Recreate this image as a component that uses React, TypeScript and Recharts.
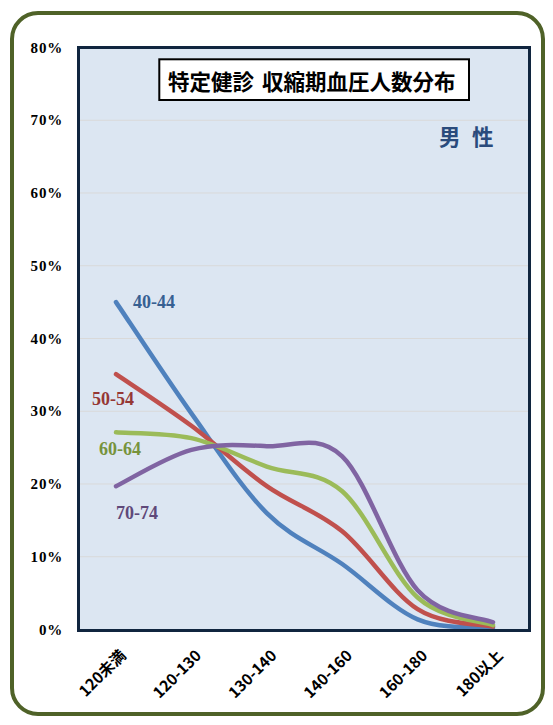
import { LineChart, Line, XAxis, YAxis, CartesianGrid } from 'recharts'

const categories = ['120未満', '120-130', '130-140', '140-160', '160-180', '180以上']
const age4044 = [45.0, 29.7, 16.0, 9.0, 1.4, 0.2]
const age5054 = [35.1, 28.0, 19.7, 13.5, 2.8, 0.4]
const age6064 = [27.1, 26.3, 22.4, 19.0, 4.4, 0.6]
const age7074 = [19.7, 24.7, 25.2, 23.8, 5.4, 1.0]
const yTicks = [0, 10, 20, 30, 40, 50, 60, 70, 80]

const data = categories.map((name, i) => ({
  name,
  a4044: age4044[i],
  a5054: age5054[i],
  a6064: age6064[i],
  a7074: age7074[i],
}))

const SERIES = [
  { key: 'a4044', color: '#4F81BD' },
  { key: 'a5054', color: '#C0504D' },
  { key: 'a6064', color: '#9BBB59' },
  { key: 'a7074', color: '#8064A2' },
]

const GOTHIC = '"Noto Sans CJK JP", "Noto Sans", sans-serif'
const SERIF = '"Liberation Serif", "Times New Roman", serif'

// Excel風のスムージング（Catmull-Rom → ベジェ）
function excelSmooth(context: any) {
  let pts: number[][] = []
  return {
    areaStart() {},
    areaEnd() {},
    lineStart() { pts = [] },
    point(x: number, y: number) { pts.push([+x, +y]) },
    lineEnd() {
      if (!pts.length) return
      context.moveTo(pts[0][0], pts[0][1])
      for (let i = 0; i < pts.length - 1; i++) {
        const p0 = pts[Math.max(0, i - 1)]
        const p1 = pts[i]
        const p2 = pts[i + 1]
        const p3 = pts[Math.min(pts.length - 1, i + 2)]
        context.bezierCurveTo(
          p1[0] + (p2[0] - p0[0]) / 6, p1[1] + (p2[1] - p0[1]) / 6,
          p2[0] - (p3[0] - p1[0]) / 6, p2[1] - (p3[1] - p1[1]) / 6,
          p2[0], p2[1],
        )
      }
    },
  }
}

function XTick({ x, y, payload }: any) {
  const ax = x + 6
  const ay = y + 22
  return (
    <text
      x={ax}
      y={ay}
      transform={`rotate(-45, ${ax}, ${ay})`}
      textAnchor="end"
      dominantBaseline="central"
      fontFamily={GOTHIC}
      fontWeight={700}
      fontSize={15.5}
      fill="#000"
    >
      {payload.value}
    </text>
  )
}

function YTick({ x, y, payload }: any) {
  return (
    <text
      x={x - 15}
      y={y}
      textAnchor="end"
      dominantBaseline="central"
      fontFamily={SERIF}
      fontWeight={700}
      fontSize={15}
      letterSpacing={0.8}
      fill="#000"
    >
      {payload.value}%
    </text>
  )
}

export default function App() {
  return (
    <div style={{ position: 'absolute', left: 0, top: 0, width: 553, height: 725, background: '#fff' }}>
      {/* 外枠 */}
      <div style={{
        position: 'absolute', left: 10.25, top: 10.75, width: 534.5, height: 705.5,
        border: '4.5px solid #4F6228', borderRadius: 28, boxSizing: 'border-box',
      }} />
      <div style={{ position: 'absolute', left: 0, top: 0 }}>
        <LineChart width={553} height={725} data={data} margin={{ top: 47.5, right: 24, bottom: 0, left: 0 }}>
          <CartesianGrid vertical={false} fill="#DCE6F2" stroke="#D9D9D9" strokeWidth={1} />
          <XAxis
            dataKey="name"
            interval={0}
            height={95.5}
            axisLine={false}
            tickLine={false}
            tickSize={0}
            tickMargin={0}
            padding={{ left: 38, right: 36 }}
            tick={<XTick />}
          />
          <YAxis
            width={78}
            domain={[0, 80]}
            ticks={yTicks}
            interval={0}
            axisLine={false}
            tickLine={false}
            tickSize={0}
            tickMargin={0}
            tick={<YTick />}
          />
          {SERIES.map(s => (
            <Line
              key={s.key}
              dataKey={s.key}
              type={excelSmooth as any}
              stroke={s.color}
              strokeWidth={4.5}
              strokeLinecap="round"
              dot={false}
              activeDot={false}
              isAnimationActive={false}
            />
          ))}
        </LineChart>
      </div>
      {/* プロットエリア枠 */}
      <div style={{
        position: 'absolute', left: 76.8, top: 46.1, width: 454, height: 585.5,
        border: '3px solid #10253F', boxSizing: 'border-box', pointerEvents: 'none',
      }} />
      <svg width={553} height={725} style={{ position: 'absolute', left: 0, top: 0, pointerEvents: 'none' }}>
        <rect x={159.3} y={59.3} width={309.7} height={40.7} fill="#fff" stroke="#000" strokeWidth={2} />
        <text x={168} y={80} dominantBaseline="central" fontFamily={GOTHIC} fontWeight={700} fontSize={21.5} fill="#000">
          特定健診<tspan dx={8}>収縮期血圧人数分布</tspan>
        </text>
        <text x={439} y={135} dominantBaseline="central" fontFamily={GOTHIC} fontWeight={700} fontSize={21.5} fill="#2A4B7C">
          男<tspan dx={11.5}>性</tspan>
        </text>
        <text x={133} y={302} dominantBaseline="central" fontFamily={SERIF} fontWeight={700} fontSize={18} fill="#376092">40-44</text>
        <text x={92} y={399} dominantBaseline="central" fontFamily={SERIF} fontWeight={700} fontSize={18} fill="#953735">50-54</text>
        <text x={99} y={449} dominantBaseline="central" fontFamily={SERIF} fontWeight={700} fontSize={18} fill="#77933C">60-64</text>
        <text x={116} y={513} dominantBaseline="central" fontFamily={SERIF} fontWeight={700} fontSize={18} fill="#5F497A">70-74</text>
      </svg>
    </div>
  )
}
